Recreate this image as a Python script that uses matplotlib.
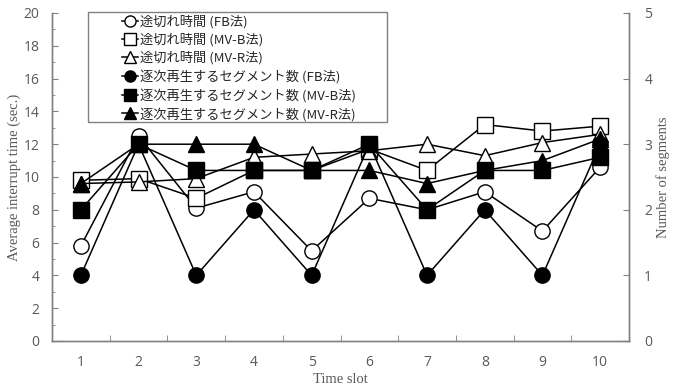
import matplotlib
matplotlib.use("Agg")
import matplotlib.pyplot as plt
from matplotlib.patches import Rectangle
from matplotlib.lines import Line2D

# ---- data ----
slots = [1, 2, 3, 4, 5, 6, 7, 8, 9, 10]
interrupt_fb = [5.8, 12.5, 8.1, 9.1, 5.5, 8.7, 8.0, 9.1, 6.7, 10.6]
interrupt_mvb = [9.8, 9.9, 8.7, 10.4, 10.4, 11.7, 10.4, 13.2, 12.8, 13.1]
interrupt_mvr = [9.6, 9.7, 9.9, 11.2, 11.4, 11.6, 12.0, 11.3, 12.1, 12.6]
segments_fb = [1, 3, 1, 2, 1, 3, 1, 2, 1, 3]
segments_mvb = [2.0, 3.0, 2.6, 2.6, 2.6, 3.0, 2.0, 2.6, 2.6, 2.8]
segments_mvr = [2.4, 3.0, 3.0, 3.0, 2.6, 2.6, 2.4, 2.6, 2.75, 3.08]

labels = ["途切れ時間 (FB法)", "途切れ時間 (MV-B法)", "途切れ時間 (MV-R法)",
          "逐次再生するセグメント数 (FB法)", "逐次再生するセグメント数 (MV-B法)",
          "逐次再生するセグメント数 (MV-R法)"]
left_ticks = [0, 2, 4, 6, 8, 10, 12, 14, 16, 18, 20]
right_ticks = [0, 1, 2, 3, 4, 5]

W, H = 677, 390
fig = plt.figure(figsize=(W / 100, H / 100), dpi=100)
ax = fig.add_axes([52 / W, 1 - 341 / H, (629 - 52) / W, (341 - 13) / H])
ax2 = ax.twinx()

gray = "#808080"
tickcol = "#595959"
ms = 11
lw = 1.1

open_kw = dict(color="black", lw=lw, markerfacecolor="white", markeredgecolor="black",
               markeredgewidth=1.0, markersize=ms)
fill_kw = dict(color="black", lw=lw, markerfacecolor="black", markeredgecolor="black",
               markersize=ms)

ax.plot(slots, interrupt_fb, marker="o", **open_kw)
ax.plot(slots, interrupt_mvb, marker="s", **open_kw)
ax.plot(slots, interrupt_mvr, marker="^", **open_kw)
ax2.plot(slots, segments_fb, marker="o", **fill_kw)
ax2.plot(slots, segments_mvb, marker="s", **fill_kw)
ax2.plot(slots, segments_mvr, marker="^", **fill_kw)

ax.set_xlim(0.5, 10.5)
ax.set_ylim(0, 20)
ax2.set_ylim(0, 5)

ax.set_yticks(left_ticks)
ax.set_yticks(range(0, 21), minor=True)
ax2.set_yticks(right_ticks)
ax.set_xticks(slots)
ax.set_xticks([s + 0.5 for s in slots[:-1]], minor=True)
tfont = {"family": "Open Sans", "size": 10}
ax.set_xticklabels([str(s) for s in slots], fontdict=tfont, color=tickcol)
ax.set_yticklabels([str(t) for t in left_ticks], fontdict=tfont, color=tickcol)
ax2.set_yticklabels([str(t) for t in right_ticks], fontdict=tfont, color=tickcol)

ax.tick_params(axis="x", which="major", length=0, pad=10)
ax.tick_params(axis="x", which="minor", direction="in", length=4, color=gray)
ax.tick_params(axis="y", which="major", direction="in", length=4, color=gray, pad=9)
ax.tick_params(axis="y", which="minor", direction="in", length=2.5, color=gray)
ax2.tick_params(axis="y", which="major", direction="in", length=4, color=gray, pad=11)

for a in (ax, ax2):
    a.spines["top"].set_visible(False)
    for s in ("left", "right", "bottom"):
        a.spines[s].set_color(gray)
        a.spines[s].set_linewidth(1.0)

lfont = {"family": "Liberation Serif", "size": 10.5}
ax.set_xlabel("Time slot", fontdict=lfont, color=tickcol, labelpad=2)
ax.set_ylabel("Average interrupt time (sec.)", fontdict=lfont, color=tickcol, labelpad=2)
ax2.set_ylabel("Number of segments", fontdict=lfont, color=tickcol, labelpad=3)

# legend
handles = [
    Line2D([], [], marker="o", **{**open_kw, "markersize": 8}),
    Line2D([], [], marker="s", **{**open_kw, "markersize": 8}),
    Line2D([], [], marker="^", **{**open_kw, "markersize": 8}),
    Line2D([], [], marker="o", **{**fill_kw, "markersize": 8}),
    Line2D([], [], marker="s", **{**fill_kw, "markersize": 8}),
    Line2D([], [], marker="^", **{**fill_kw, "markersize": 8}),
]
fig.patches.append(Rectangle((88 / W, 1 - 122 / H), (387 - 88) / W, (122 - 12) / H,
                             transform=fig.transFigure, facecolor="white",
                             edgecolor=gray, lw=1.0, zorder=5))
leg = fig.legend(handles, labels, loc="upper left", bbox_to_anchor=(122 / W, 1 - 15 / H),
                 frameon=False, handlelength=1.2, handletextpad=0.2, labelspacing=0.36,
                 borderpad=0.0, borderaxespad=0.0,
                 prop={"family": ["Noto Sans CJK JP", "DejaVu Sans"], "size": 9.5})
leg.set_zorder(6)
for t in leg.get_texts():
    t.set_color("#262626")

fig.savefig("out.png", dpi=100, facecolor="white")
